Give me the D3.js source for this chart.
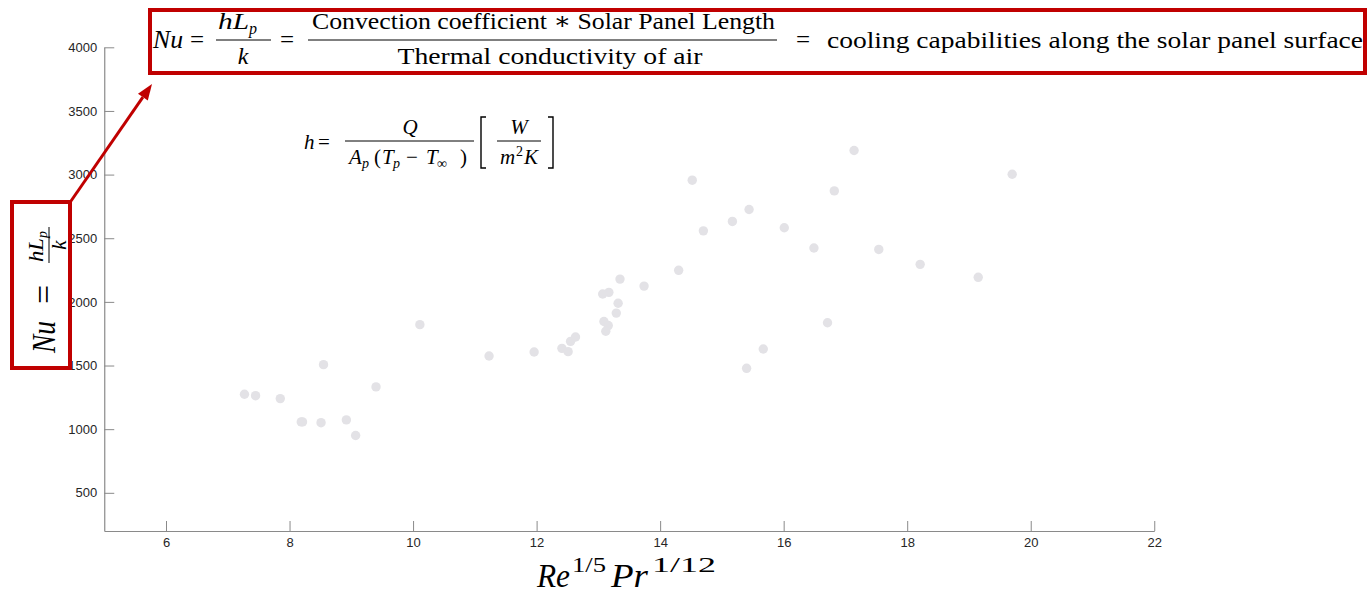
<!DOCTYPE html>
<html>
<head>
<meta charset="utf-8">
<script src="https://cdn.jsdelivr.net/npm/d3@7/dist/d3.min.js"></script>
<style>
  html, body { margin: 0; padding: 0; background: #ffffff; }
  svg { display: block; }
  .m { font-family: "Liberation Serif", "Times New Roman", "DejaVu Serif", serif; }
  .tk { font-family: "Liberation Sans", Arial, Helvetica, sans-serif; }
</style>
</head>
<body>
<svg id="chart" width="1369" height="593"></svg>
<script>
// ---------------- data ----------------
const xValues = [7.27, 7.45, 7.85, 8.55, 8.19, 8.21, 8.51, 8.92, 9.07, 9.40,
                 10.11, 11.23, 11.96, 12.41, 12.51, 12.55, 12.63, 13.09, 13.16, 13.12,
                 13.29, 13.32, 17.14, 14.52, 19.70, 16.82, 15.44, 15.17, 14.70, 16.01,
                 16.49, 17.54, 18.21, 19.15, 14.30, 13.35, 13.17, 13.07, 13.74, 16.71,
                 15.67, 15.40];
const yValues = [1274, 1263, 1240, 1507, 1057, 1057, 1051, 1073, 950, 1332,
                 1821, 1575, 1606, 1635, 1609, 1690, 1724, 1846, 1814, 1769,
                 1912, 1989, 3189, 2956, 3003, 2872, 2726, 2632, 2558, 2582,
                 2423, 2412, 2295, 2193, 2248, 2179, 2075, 2062, 2124, 1836,
                 1630, 1478];
const xTicks = [6, 8, 10, 12, 14, 16, 18, 20, 22];
const yTicks = [500, 1000, 1500, 2000, 2500, 3000, 3500, 4000];
const xDomain = [5, 22];
const yDomain = [200, 4000];

// ---------------- setup ----------------
const svg = d3.select("#chart");
const RED = "#c00000";

const x = d3.scaleLinear().domain(xDomain).range([104.25, 1154.25]);
const y = d3.scaleLinear().domain(yDomain).range([531, 47.3]);

// ---------------- axes ----------------
const axisColor = "#8a8a8a";
const gx = svg.append("g").attr("transform", "translate(0,531)")
  .call(d3.axisBottom(x).tickValues(xTicks).tickSizeInner(-10).tickSizeOuter(0).tickPadding(17).tickFormat(d3.format("d")));
const gy = svg.append("g").attr("transform", "translate(104.25,0)")
  .call(d3.axisLeft(y).tickValues(yTicks).tickSizeInner(-10).tickSizeOuter(0).tickPadding(17).tickFormat(d3.format("d")));
[gx, gy].forEach(g => {
  g.attr("font-family", null).attr("font-size", null);
  g.select(".domain").attr("stroke", axisColor).attr("stroke-width", 1.2);
  g.selectAll(".tick line").attr("stroke", axisColor).attr("stroke-width", 1);
  g.selectAll(".tick text").attr("class", "tk").attr("fill", "#262626").style("font-size", "13px");
});
gy.selectAll(".tick text").attr("x", -7);
gx.selectAll(".tick text").attr("y", 7);

// ---------------- points ----------------
svg.append("g").selectAll("circle")
  .data(xValues.map((v, i) => [v, yValues[i]]))
  .join("circle")
  .attr("cx", d => x(d[0]))
  .attr("cy", d => y(d[1]))
  .attr("r", 4.7)
  .attr("fill", "#e3e2e6");

// ---------------- text helpers ----------------
function T(parent, px, py, str, o = {}) {
  const t = parent.append("text")
    .attr("class", "m")
    .attr("x", px).attr("y", py)
    .style("font-size", (o.size || 22) + "px")
    .style("font-style", o.italic ? "italic" : "normal")
    .attr("text-anchor", o.anchor || "start")
    .attr("fill", "#000")
    .text(str);
  if (o.len) t.attr("textLength", o.len).attr("lengthAdjust", "spacingAndGlyphs");
  return t;
}
function L(parent, x1, y1, x2, y2, w = 1, c = "#000") {
  parent.append("line").attr("x1", x1).attr("y1", y1).attr("x2", x2).attr("y2", y2)
    .attr("stroke", c).attr("stroke-width", w);
}

// ---------------- top definition box ----------------
const topG = svg.append("g");
topG.append("rect").attr("x", 150).attr("y", 10).attr("width", 1215).attr("height", 63)
  .attr("fill", "none").attr("stroke", RED).attr("stroke-width", 4);
T(topG, 153, 48, "Nu", {italic: true, size: 25, len: 30});
T(topG, 190, 48, "=", {size: 25});
T(topG, 218, 29, "hL", {italic: true, size: 24, len: 31});
T(topG, 249, 34, "p", {italic: true, size: 16});
L(topG, 216, 40, 271, 40, 1);
T(topG, 243, 64, "k", {italic: true, size: 24, anchor: "middle"});
T(topG, 280, 48, "=", {size: 25});
L(topG, 308, 40, 777, 40, 1);
T(topG, 543.5, 29, "Convection coefficient \u2217 Solar Panel Length", {size: 24, anchor: "middle", len: 463});
T(topG, 550, 64, "Thermal conductivity of air", {size: 24, anchor: "middle", len: 305});
T(topG, 796, 48, "=", {size: 25});
T(topG, 827, 48, "cooling capabilities along the solar panel surface", {size: 24, len: 536});

// ---------------- h formula ----------------
const hf = svg.append("g");
T(hf, 304, 149, "h", {italic: true, size: 21});
T(hf, 318, 149, "=", {size: 21});
L(hf, 345, 141, 474, 141, 1);
T(hf, 410, 134, "Q", {italic: true, size: 21, anchor: "middle"});
T(hf, 349, 164, "A", {italic: true, size: 21});
T(hf, 362, 168, "p", {italic: true, size: 14});
T(hf, 374, 164, "(", {size: 21});
T(hf, 382, 164, "T", {italic: true, size: 21});
T(hf, 393, 168, "p", {italic: true, size: 14});
T(hf, 406, 164, "\u2212", {size: 21});
T(hf, 426, 164, "T", {italic: true, size: 21});
T(hf, 437, 168, "\u221E", {size: 14});
T(hf, 460, 164, ")", {size: 21});
hf.append("path").attr("d", "M486,117 L481,117 L481,168 L486,168")
  .attr("fill", "none").attr("stroke", "#000").attr("stroke-width", 1.4);
hf.append("path").attr("d", "M548,117 L553,117 L553,168 L548,168")
  .attr("fill", "none").attr("stroke", "#000").attr("stroke-width", 1.4);
T(hf, 519, 134, "W", {italic: true, size: 21, anchor: "middle"});
L(hf, 497, 141, 541, 141, 1);
T(hf, 500, 164, "m", {italic: true, size: 21});
T(hf, 516, 156, "2", {size: 14});
T(hf, 524, 164, "K", {italic: true, size: 21});

// ---------------- y label box ----------------
const yl = svg.append("g");
yl.append("rect").attr("x", 12).attr("y", 202).attr("width", 58).attr("height", 166)
  .attr("fill", "none").attr("stroke", RED).attr("stroke-width", 4);
const yr = yl.append("g").attr("transform", "translate(55,285) rotate(-90)");
T(yr, -68, 0, "Nu", {italic: true, size: 34, len: 32});
T(yr, -19, 0, "=", {size: 34});
T(yr, 23, -12, "hL", {italic: true, size: 21, len: 24});
T(yr, 47, -8, "p", {italic: true, size: 14});
L(yr, 22, -6, 58, -6, 1);
T(yr, 40, 11, "k", {italic: true, size: 21, anchor: "middle"});

// ---------------- arrow ----------------
const a0 = [71, 201], a1 = [152, 84];
const adx = a1[0] - a0[0], ady = a1[1] - a0[1], alen = Math.hypot(adx, ady);
const ux = adx / alen, uy = ady / alen, hl = 16, hw = 6;
const abase = [a1[0] - ux * hl, a1[1] - uy * hl];
L(svg, a0[0], a0[1], abase[0], abase[1], 3, RED);
svg.append("path")
  .attr("d", `M${a1[0]},${a1[1]} L${abase[0] - uy * hw},${abase[1] + ux * hw} L${abase[0] + uy * hw},${abase[1] - ux * hw} Z`)
  .attr("fill", RED);

// ---------------- x label ----------------
const xl = svg.append("g");
T(xl, 537, 587, "Re", {italic: true, size: 34, len: 33});
T(xl, 572, 572, "1/5", {size: 22, len: 34});
T(xl, 611, 587, "Pr", {italic: true, size: 34, len: 37});
T(xl, 652, 572, "1/12", {size: 22, len: 64});
</script>
</body>
</html>
